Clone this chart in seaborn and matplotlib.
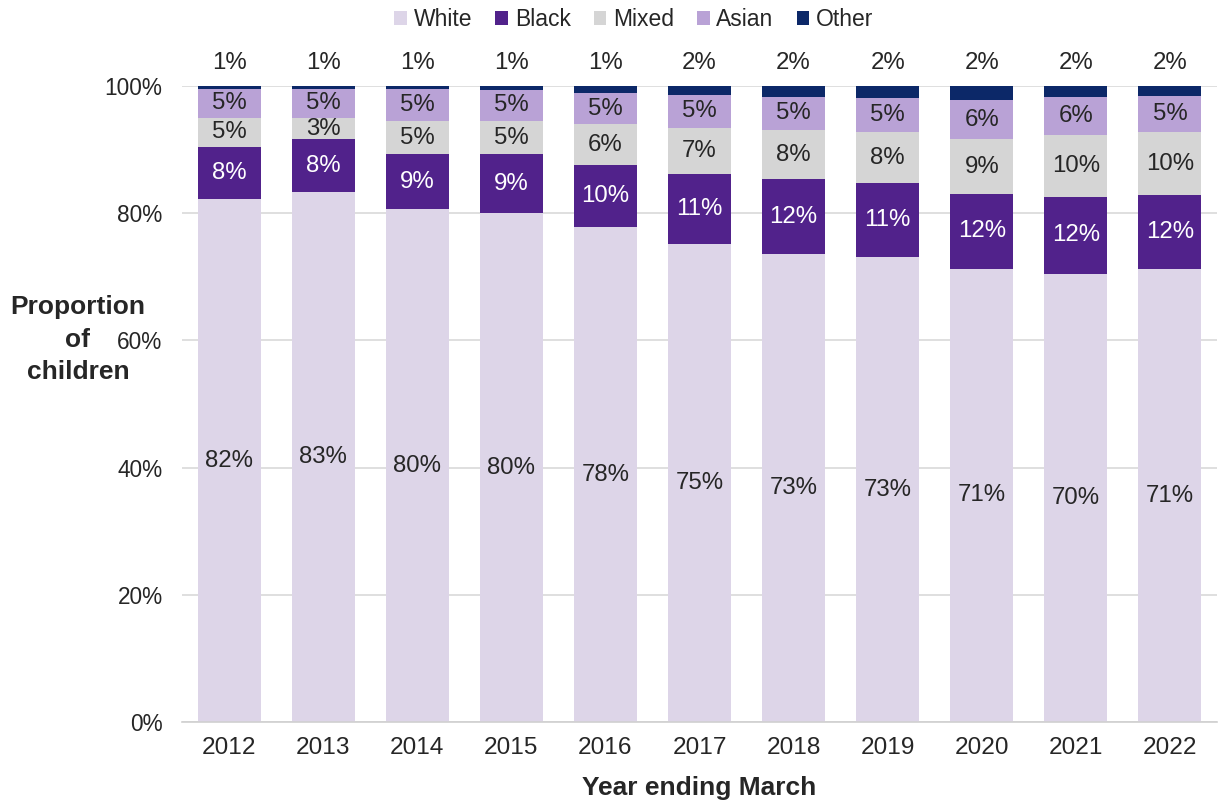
import matplotlib
matplotlib.use("Agg")
import matplotlib.pyplot as plt
from matplotlib.patches import Patch
import seaborn as sns
import numpy as np
import pandas as pd

years = ["2012", "2013", "2014", "2015", "2016", "2017", "2018", "2019", "2020", "2021", "2022"]
white = [82.2, 83.4, 80.6, 80.0, 77.8, 75.2, 73.6, 73.1, 71.3, 70.4, 71.2]
black = [8.2, 8.2, 8.7, 9.3, 9.8, 11.0, 11.7, 11.6, 11.7, 12.2, 11.6]
mixed = [4.6, 3.4, 5.2, 5.2, 6.4, 7.2, 7.8, 8.1, 8.6, 9.7, 9.9]
asian = [4.5, 4.5, 5.0, 4.9, 4.9, 5.2, 5.2, 5.3, 6.2, 6.0, 5.7]
other = [0.5, 0.5, 0.5, 0.6, 1.1, 1.4, 1.7, 1.9, 2.2, 1.7, 1.6]

white_lbl = ["82%", "83%", "80%", "80%", "78%", "75%", "73%", "73%", "71%", "70%", "71%"]
black_lbl = ["8%", "8%", "9%", "9%", "10%", "11%", "12%", "11%", "12%", "12%", "12%"]
mixed_lbl = ["5%", "3%", "5%", "5%", "6%", "7%", "8%", "8%", "9%", "10%", "10%"]
asian_lbl = ["5%", "5%", "5%", "5%", "5%", "5%", "5%", "5%", "6%", "6%", "5%"]
other_lbl = ["1%", "1%", "1%", "1%", "1%", "2%", "2%", "2%", "2%", "2%", "2%"]

groups = ["White", "Black", "Mixed", "Asian", "Other"]
colors = {"White": "#DDD5E8", "Black": "#51228B", "Mixed": "#D5D5D5",
          "Asian": "#B9A2D6", "Other": "#0C2868"}
series = {"White": white, "Black": black, "Mixed": mixed, "Asian": asian, "Other": other}
labels = {"White": white_lbl, "Black": black_lbl, "Mixed": mixed_lbl, "Asian": asian_lbl}
text_col = {"White": "#262626", "Black": "white", "Mixed": "#262626", "Asian": "#262626"}

sns.set_theme(style="white")
plt.rcParams["font.family"] = ["Liberation Sans", "DejaVu Sans"]

fig = plt.figure(figsize=(12.19, 8.05), dpi=100)
ax = fig.add_axes([182 / 1219, 1 - 722 / 805, (1217 - 182) / 1219, (722 - 86) / 805])

vals = np.array([series[g] for g in groups])
cum = np.cumsum(vals, axis=0)

# draw from tallest cumulative to smallest so each layer shows
for i in range(len(groups) - 1, -1, -1):
    df = pd.DataFrame({"Year": years, "v": cum[i]})
    sns.barplot(data=df, x="Year", y="v", color=colors[groups[i]], width=0.67,
                linewidth=0, saturation=1, ax=ax, zorder=2)

for gi, g in enumerate(groups[:-1]):
    for xi in range(len(years)):
        bottom = cum[gi - 1][xi] if gi > 0 else 0
        ax.text(xi, bottom + vals[gi][xi] / 2, labels[g][xi], ha="center", va="center",
                fontsize=17.3, color=text_col[g], zorder=5)
for xi in range(len(years)):
    ax.text(xi, 103.6, other_lbl[xi], ha="center", va="center", fontsize=17.3,
            color="#262626", clip_on=False)

ax.set_ylim(0, 100)
ax.set_xlim(-0.5, len(years) - 0.5)
ax.set_yticks([0, 20, 40, 60, 80, 100])
ax.set_yticklabels(["0%", "20%", "40%", "60%", "80%", "100%"])
ax.yaxis.grid(True, color="#D9D9D9", linewidth=1.2, zorder=0)
ax.set_axisbelow(True)
for s in ["left", "right", "top"]:
    ax.spines[s].set_visible(False)
ax.spines["bottom"].set_color("#D0D0D0")
ax.spines["bottom"].set_linewidth(1.2)
ax.tick_params(axis="both", length=0, colors="#262626")
ax.tick_params(axis="y", pad=14, labelsize=16.3)
ax.tick_params(axis="x", pad=11, labelsize=17.6)
ax.set_xlabel("Year ending March", fontsize=19, fontweight="bold", color="#262626", labelpad=12)
ax.set_ylabel("")

for txt, ypix in [("Proportion", 307), ("of", 340), ("children", 372)]:
    fig.text(78 / 1219, 1 - ypix / 805, txt, ha="center", va="center",
             fontsize=19, fontweight="bold", color="#262626")

handles = [Patch(facecolor=colors[g], edgecolor="none", label=g) for g in groups]
fig.legend(handles=handles, loc="center", bbox_to_anchor=(0.52, 1 - 20 / 805), ncol=5,
           frameon=False, fontsize=16.5, handlelength=0.55, handleheight=0.55,
           handletextpad=0.3, columnspacing=1.0, labelcolor="#262626")

fig.savefig("out.png", dpi=100)
